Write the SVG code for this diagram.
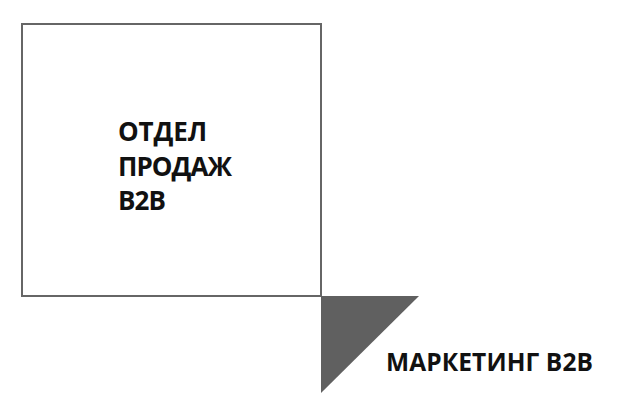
<svg xmlns="http://www.w3.org/2000/svg" width="620" height="415" viewBox="0 0 620 415">
<style>
.lbl{font-family:"Open Sans","Liberation Sans",Arial,sans-serif;font-weight:bold;fill:#111;}
</style>
<rect width="620" height="415" fill="#fff"/>
<g id="sales">
<rect x="22" y="24" width="299" height="272" fill="none" stroke="#666" stroke-width="2"/>
<text class="lbl" font-size="26" x="118" y="141" textLength="89">ОТДЕЛ</text>
<text class="lbl" font-size="26" x="118" y="176" textLength="114">ПРОДАЖ</text>
<text class="lbl" font-size="26" x="118" y="210" textLength="48">B2B</text>
</g>
<g id="marketing">
<polygon points="321,296 419,296 321,393" fill="#606060"/>
<text class="lbl" font-size="24.5" x="386" y="371" textLength="207">МАРКЕТИНГ B2B</text>
</g>
<g id="connectors"></g>
</svg>
